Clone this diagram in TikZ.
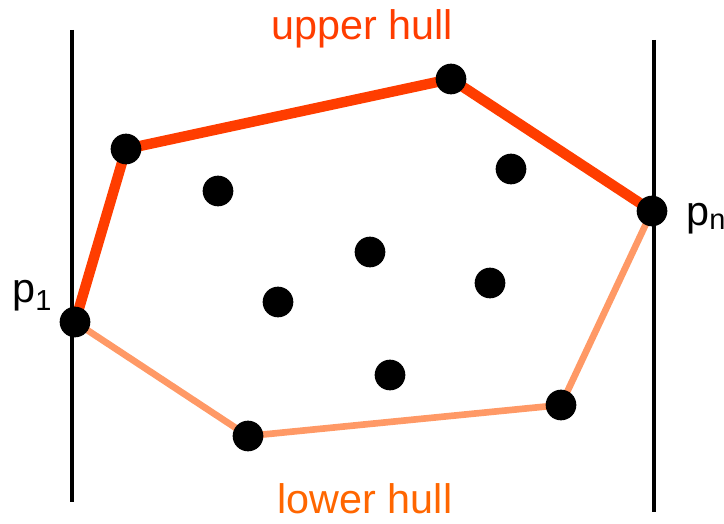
\documentclass[tikz,border=0pt]{standalone}
\usepackage{fontspec}
\setmainfont{Liberation Sans}
\definecolor{upperc}{HTML}{FF3D00}
\definecolor{lowerc}{HTML}{FF9966}
\definecolor{lowertxt}{HTML}{FF6600}
\begin{document}
\begin{tikzpicture}[x=0.75pt,y=-0.75pt,
  pt/.style={circle,fill=black,inner sep=0pt,minimum size=23pt},
  upperline/.style={draw=upperc,line width=7.8pt,line join=round},
  lowerline/.style={draw=lowerc,line width=5pt,line join=round},
  vline/.style={draw=black,line width=2.3pt},
  lab/.style={font=\fontsize{31}{36}\selectfont,inner sep=0pt}]
\useasboundingbox (0,0) rectangle (724,524);
\clip (0,0) rectangle (724,524);
% vertical lines
\coordinate (l1) at (72,30);
\coordinate (l2) at (72,502);
\coordinate (r1) at (654,40);
\coordinate (r2) at (654,512);
\draw[vline] (l1) -- (l2);
\draw[vline] (r1) -- (r2);
% hull points
\coordinate (p1) at (75,322);
\coordinate (a) at (126,149);
\coordinate (b) at (451,79);
\coordinate (pn) at (652,211);
\coordinate (c) at (561,405);
\coordinate (d) at (248,436);
\draw[lowerline] (p1) -- (d) -- (c) -- (pn);
\draw[upperline] (p1) -- (a) -- (b) -- (pn);
\foreach \n in {p1,a,b,pn,c,d} \node[pt] at (\n) {};
% interior points
\node[pt] (i1) at (218,191) {};
\node[pt] (i2) at (511,169) {};
\node[pt] (i3) at (370,252) {};
\node[pt] (i4) at (278,302) {};
\node[pt] (i5) at (490,283) {};
\node[pt] (i6) at (390,375) {};
% labels
\node[lab,text=upperc,anchor=base] (ul) at (362,40) {upper hull};
\node[lab,text=lowertxt,anchor=base] (ll) at (365,513) {lower hull};
\node[lab,anchor=base west] (lp1) at (12,302) {p\textsubscript{1}};
\node[lab,anchor=base west] (lpn) at (686,225) {p\textsubscript{n}};
\end{tikzpicture}
\end{document}
